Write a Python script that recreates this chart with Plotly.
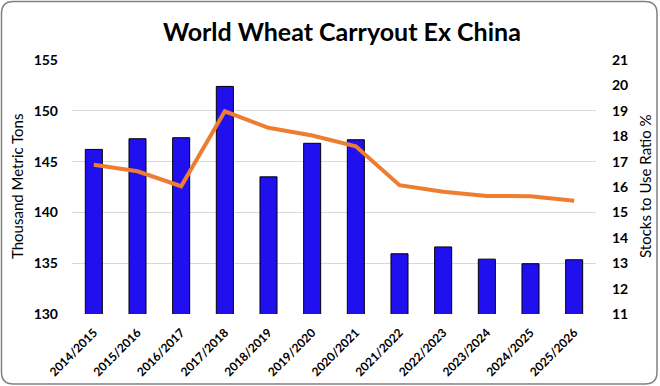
import plotly.graph_objects as go

seasons = ["2014/2015", "2015/2016", "2016/2017", "2017/2018", "2018/2019", "2019/2020",
           "2020/2021", "2021/2022", "2022/2023", "2023/2024", "2024/2025", "2025/2026"]
carryout = [146.2, 147.25, 147.35, 152.4, 143.5, 146.8, 147.15, 135.93, 136.6, 135.4, 134.95, 135.34]
stocks_to_use = [16.88, 16.62, 16.03, 18.98, 18.33, 18.03, 17.6, 16.07, 15.81, 15.65, 15.64, 15.46]

W, H = 660, 386
ML, MR, MT, MB = 72, 64, 60, 72
FONT = "Lato"

fig = go.Figure()
fig.add_trace(go.Bar(x=seasons, y=carryout, marker=dict(color="#2010F0", line=dict(color="#000000", width=1)),
                     width=0.39, yaxis="y", showlegend=False))
fig.add_trace(go.Scatter(x=seasons, y=stocks_to_use, mode="lines", line=dict(color="#ED7D31", width=4),
                         yaxis="y2", showlegend=False))

pw, ph = W - ML - MR, H - MT - MB
def px(x):
    return (x - ML) / pw
def py(y):
    return (H - MB - y) / ph

x0, x1, y0, y1, r = 1.5, 657, 1.5, 384, 12
path = (f"M {px(x0+r)},{py(y0)} L {px(x1-r)},{py(y0)} Q {px(x1)},{py(y0)} {px(x1)},{py(y0+r)} "
        f"L {px(x1)},{py(y1-r)} Q {px(x1)},{py(y1)} {px(x1-r)},{py(y1)} "
        f"L {px(x0+r)},{py(y1)} Q {px(x0)},{py(y1)} {px(x0)},{py(y1-r)} "
        f"L {px(x0)},{py(y0+r)} Q {px(x0)},{py(y0)} {px(x0+r)},{py(y0)} Z")

fig.update_layout(
    width=W, height=H,
    margin=dict(l=ML, r=MR, t=MT, b=MB, autoexpand=False),
    paper_bgcolor="white", plot_bgcolor="white",
    font=dict(family=FONT, color="#000000"),
    title=dict(text="<b>World Wheat Carryout Ex China</b>", x=0.518, xanchor="center", y=0.917, yanchor="middle",
               font=dict(size=25, family=FONT, color="#000000")),
    xaxis=dict(type="category", tickangle=-45, tickfont=dict(size=12, family=FONT), showgrid=False,
               showline=False, ticks="outside", ticklen=6, tickcolor="rgba(0,0,0,0)",
               tickprefix="<b>", ticksuffix="</b>", automargin=False),
    yaxis=dict(range=[130, 155], dtick=5, showgrid=True, gridcolor="#D9D9D9", gridwidth=1,
               tickfont=dict(size=14, family=FONT), zeroline=False, ticks="", ticklen=0,
               ticklabelstandoff=13, tickprefix="<b>", ticksuffix="</b>", automargin=False),
    yaxis2=dict(range=[11, 21], dtick=1, overlaying="y", side="right", showgrid=False, zeroline=False,
                tickfont=dict(size=14, family=FONT), tickprefix="<b>", ticksuffix="</b>",
                ticklabelstandoff=15, automargin=False),
    annotations=[
        dict(text="Thousand Metric Tons", xref="paper", yref="paper", x=px(17), y=py(187),
             xanchor="center", yanchor="middle", textangle=-90, showarrow=False,
             font=dict(size=15, family=FONT, color="#000000")),
        dict(text="Stocks to Use Ratio %", xref="paper", yref="paper", x=px(645), y=py(186),
             xanchor="center", yanchor="middle", textangle=-90, showarrow=False,
             font=dict(size=15, family=FONT, color="#000000")),
    ],
    shapes=[dict(type="path", xref="paper", yref="paper", path=path,
                 line=dict(color="#808080", width=1.5), layer="below")],
    bargap=0.6,
)

fig.write_html("out.html", config={"displayModeBar": False},
               post_script="document.body.style.margin='0';document.body.style.padding='0';")
